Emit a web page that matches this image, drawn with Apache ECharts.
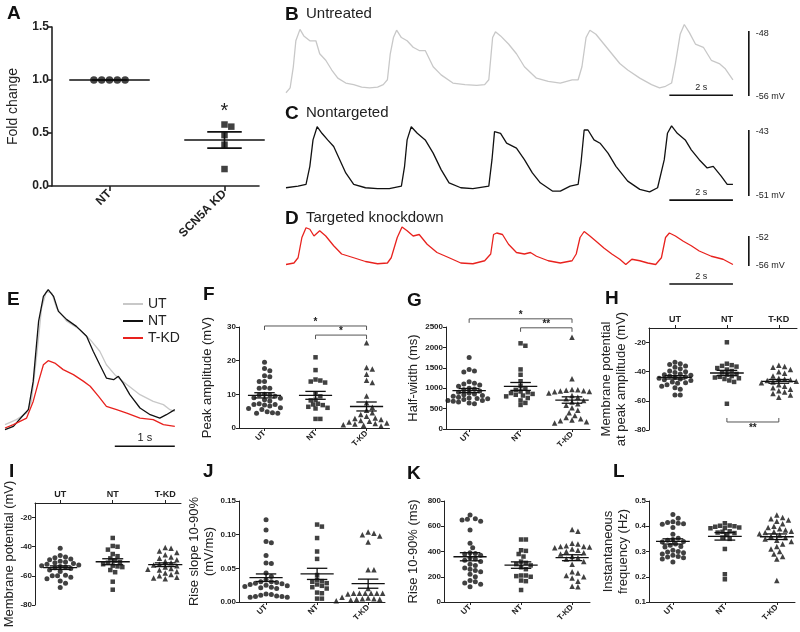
<!DOCTYPE html>
<html>
<head>
<meta charset="utf-8">
<title>SCN5A knockdown</title>
<script src="https://cdn.jsdelivr.net/npm/echarts@6/dist/echarts.min.js"></script>
</head>
<body style="margin:0;background:#fff">
<div id="main" style="width:800px;height:632px;"></div>
<script>
var FONT = '"Liberation Sans", Arial, Helvetica, sans-serif';
var GRAY = '#c8c8c8', RED = '#e8221e';

// A: fold change
var aCats = ['NT', 'SCN5A KD'];
var aNT = [1, 1, 1, 1, 1];
var aKD = [0.58, 0.56, 0.48, 0.39, 0.16];

// B-D: spontaneous traces [time s, mV]
var bTrace = [[0,-55.6],[0.13,-55.0],[0.23,-52.4],[0.31,-49.2],[0.44,-47.8],[0.56,-48.6],[0.75,-49.2],[0.94,-49.2],[1.06,-50.8],[1.25,-51.6],[1.44,-52.8],[1.63,-53.8],[1.88,-54.4],[2.13,-54.6],[2.38,-54.9],[2.63,-55.0],[2.88,-54.9],[3.06,-54.6],[3.19,-54.0],[3.28,-50.8],[3.38,-48.8],[3.48,-47.9],[3.63,-48.8],[3.81,-49.2],[4.0,-50.0],[4.19,-50.4],[4.38,-50.4],[4.63,-52.4],[4.88,-53.4],[5.25,-54.4],[5.63,-54.6],[6.0,-54.7],[6.25,-54.6],[6.38,-54.0],[6.5,-48.8],[6.59,-48.1],[6.75,-48.6],[7.0,-49.6],[7.25,-50.8],[7.5,-52.4],[7.88,-53.8],[8.25,-54.2],[8.63,-54.4],[9.0,-54.0],[9.19,-54.0],[9.31,-52.4],[9.44,-48.8],[9.56,-47.9],[9.75,-48.4],[10.0,-49.6],[10.25,-50.8],[10.5,-52.0],[10.75,-52.8],[11.13,-53.8],[11.5,-54.6],[11.75,-55.0],[11.94,-54.8],[12.13,-54.4],[12.25,-52.0],[12.4,-48.4],[12.53,-47.2],[12.69,-48.2],[12.88,-49.6],[13.13,-50.0],[13.38,-51.6],[13.63,-52.0],[13.81,-52.6],[14.06,-54.0]];
var cTrace = [[0,-50.0],[0.38,-49.8],[0.63,-49.6],[0.75,-47.4],[0.85,-44.2],[0.98,-42.6],[1.13,-43.4],[1.31,-44.2],[1.5,-45.0],[1.69,-46.6],[1.88,-48.2],[2.13,-49.6],[2.5,-50.0],[2.88,-50.1],[3.25,-50.1],[3.63,-49.8],[3.73,-47.4],[3.81,-44.2],[3.94,-42.6],[4.13,-43.4],[4.38,-44.2],[4.63,-45.8],[4.88,-47.8],[5.13,-49.4],[5.5,-50.0],[5.88,-50.1],[6.38,-49.8],[6.48,-46.6],[6.56,-43.2],[6.75,-43.4],[6.94,-44.6],[7.25,-45.2],[7.5,-46.6],[7.75,-48.2],[8.0,-49.4],[8.38,-50.4],[8.63,-50.4],[8.94,-49.8],[9.19,-49.6],[9.28,-47.0],[9.38,-43.0],[9.5,-43.0],[9.69,-44.2],[9.88,-44.6],[10.13,-45.8],[10.38,-47.4],[10.75,-49.2],[11.13,-50.2],[11.44,-50.5],[11.69,-50.0],[11.9,-46.6],[12.0,-43.4],[12.13,-42.5],[12.31,-43.4],[12.56,-44.2],[12.75,-45.4],[13.0,-46.6],[13.25,-47.6],[13.44,-47.4],[13.69,-48.6],[13.88,-49.6],[14.06,-49.6]];
var dTrace = [[0,-55.8],[0.25,-55.6],[0.38,-54.9],[0.5,-52.2],[0.63,-50.9],[0.75,-51.1],[0.88,-52.0],[1.06,-51.3],[1.25,-52.0],[1.5,-53.3],[1.75,-54.4],[2.13,-54.9],[2.5,-55.4],[2.88,-55.7],[3.19,-55.6],[3.31,-54.9],[3.5,-52.2],[3.65,-50.8],[3.81,-51.3],[4.0,-52.0],[4.19,-51.8],[4.44,-53.1],[4.75,-54.2],[5.13,-54.9],[5.5,-55.6],[5.88,-55.7],[6.25,-55.3],[6.44,-54.4],[6.53,-51.8],[6.63,-51.6],[6.81,-51.8],[7.0,-53.1],[7.25,-54.2],[7.5,-54.4],[7.69,-54.2],[7.88,-54.7],[8.25,-55.3],[8.63,-55.6],[9.0,-55.3],[9.13,-54.4],[9.25,-52.2],[9.38,-51.4],[9.56,-52.0],[9.81,-52.9],[10.0,-53.6],[10.25,-54.4],[10.5,-55.1],[10.69,-55.8],[10.88,-55.1],[11.13,-55.3],[11.38,-55.6],[11.63,-55.8],[11.81,-54.9],[11.94,-52.2],[12.06,-51.6],[12.25,-52.0],[12.5,-52.7],[12.75,-53.3],[13.0,-54.0],[13.38,-54.7],[13.75,-55.1],[14.06,-55.8]];
// scale bars: horizontal [t0, t1, mV], vertical [t, top mV, bottom mV]
var bScale = {h: [12.06, 14.06, -55.9], v: [14.56, -48, -56], top: '-48', bottom: '-56 mV'};
var cScale = {h: [12.06, 14.06, -51.5], v: [14.56, -43, -51], top: '-43', bottom: '-51 mV'};
var dScale = {h: [12.06, 14.06, -58.4], v: [14.56, -52, -56], top: '-52', bottom: '-56 mV'};

// E: averaged AP overlay [time s, mV above baseline]
var eUT = [[0,0.24],[0.19,0.6],[0.36,1.07],[0.44,1.9],[0.53,5.24],[0.61,8.57],[0.69,9.76],[0.78,9.64],[0.86,8.57],[1.03,7.62],[1.25,7.02],[1.42,6.31],[1.58,5.48],[1.69,4.52],[1.83,3.81],[2.03,3.1],[2.25,2.38],[2.47,1.9],[2.64,1.67],[2.75,1.31],[2.83,1.19]];
var eNT = [[0,-0.12],[0.14,0.12],[0.31,0.95],[0.39,1.31],[0.47,3.33],[0.56,7.62],[0.64,9.4],[0.72,9.88],[0.81,9.4],[0.89,8.33],[1.03,7.74],[1.19,7.26],[1.36,6.55],[1.47,5.48],[1.58,4.52],[1.69,3.57],[1.81,3.45],[1.89,3.69],[1.97,3.21],[2.08,2.38],[2.25,1.43],[2.42,0.95],[2.58,0.71],[2.69,0.95],[2.83,1.31]];
var eKD = [[0,0],[0.14,0.24],[0.36,0.71],[0.47,1.9],[0.56,3.33],[0.64,4.52],[0.72,4.81],[0.83,4.64],[0.97,4.17],[1.14,3.81],[1.31,3.33],[1.42,2.98],[1.56,2.26],[1.69,1.55],[1.86,1.31],[2.03,1.07],[2.25,0.71],[2.47,0.6],[2.64,0.24],[2.83,0.12]];
var eScale = {h: [1.83, 2.83, -1.3], text: '1 s'};

var groupCats = ['UT', 'NT', 'T-KD'];
// F: peak amplitude (mV)
var fUT = [19.5,17.7,17.0,15.5,15.2,13.8,13.8,12.0,11.8,11.8,10.0,9.8,9.8,9.4,9.0,8.8,8.4,8.0,7.2,7.0,7.0,6.8,6.5,6.0,5.8,5.5,4.8,4.5,4.4,4.4];
var fNT = [21.0,17.2,14.4,14.1,13.8,13.5,10.1,9.4,8.4,8.2,7.2,7.0,6.8,6.3,6.0,5.8,2.7,2.7];
var fKD = [25.3,18.0,17.5,16.0,14.2,13.5,9.5,7.5,6.2,5.3,4.5,4.0,3.5,3.0,2.8,2.5,2.2,2.0,1.8,1.5,1.3,1.2,1.0,0.8,0.6,0.5];
// G: half-width (ms)
var gUT = [1750,1460,1420,1400,1160,1120,1100,1080,1050,1000,980,960,930,900,880,860,840,820,800,780,760,750,740,720,700,700,680,660,640,620];
var gNT = [2100,2040,1460,1330,1170,1050,1000,960,920,900,880,860,840,820,800,760,700,640,590];
var gKD = [2250,1230,970,960,950,940,930,920,910,900,880,860,820,780,740,700,660,620,580,520,460,400,330,280,250,220,200,180,150];
// H: membrane potential at peak amplitude (mV)
var hUT = [-33.5,-34.5,-35,-36,-37,-38,-39.5,-40,-40.5,-41.5,-42,-42.5,-43,-43.5,-44,-44.5,-45,-45.5,-46,-47,-47.5,-48,-49,-50,-51,-52,-56,-56];
var hNT = [-19.8,-34.5,-35.5,-36,-36.5,-37.5,-38.5,-39.5,-40.5,-41.5,-42,-43,-43.5,-44,-44.5,-45,-46,-47,-62];
var hKD = [-35.5,-36.5,-37,-38.5,-40,-41,-43,-44.5,-45,-45.5,-46,-46.5,-47,-47.5,-48,-49,-50,-51,-52,-53,-54,-55,-56,-57.5];
// I: membrane potential (mV)
var iUT = [-41,-46,-47,-47.5,-48.5,-49,-50,-50.5,-51,-51.5,-52,-52.5,-53,-53.5,-54,-54.5,-55,-56,-57,-59.5,-60,-60,-61,-62,-63.5,-65,-68];
var iNT = [-34,-39.5,-40,-42,-45,-46.5,-48,-49.5,-50.5,-51,-52,-53,-53.5,-54,-56,-57.5,-64,-69.5];
var iKD = [-40.5,-41,-43,-44,-45.5,-47,-48,-49,-50,-51,-52,-52.5,-53,-53.5,-54,-55,-55.5,-56,-57,-58,-59,-60,-61,-61.5,-62];
// J: rise slope 10-90% (mV/ms)
var jUT = [0.122,0.107,0.090,0.088,0.069,0.058,0.057,0.043,0.038,0.033,0.030,0.030,0.029,0.028,0.027,0.026,0.025,0.024,0.023,0.022,0.021,0.020,0.012,0.011,0.010,0.009,0.008,0.008,0.007,0.007];
var jNT = [0.115,0.112,0.095,0.075,0.064,0.040,0.033,0.031,0.030,0.028,0.026,0.024,0.022,0.020,0.014,0.013,0.005,0.005];
var jKD = [0.104,0.102,0.100,0.098,0.089,0.048,0.048,0.020,0.013,0.013,0.013,0.013,0.013,0.013,0.013,0.012,0.008,0.007,0.006,0.005,0.005,0.004,0.004,0.003,0.003,0.002,0.002,0.001];
// K: rise 10-90% (ms)
var kUT = [690,660,655,650,640,570,465,430,390,385,380,370,350,340,330,320,300,290,270,260,250,240,220,200,170,160,150,140,120];
var kNT = [495,495,410,405,380,360,320,310,300,290,275,260,210,210,205,200,170,165,95];
var kKD = [575,560,465,460,445,440,440,435,430,425,420,410,400,390,380,360,350,340,320,300,240,230,210,200,190,165,125,120];
// L: instantaneous frequency (Hz)
var lUT = [0.447,0.432,0.418,0.415,0.412,0.410,0.408,0.395,0.368,0.352,0.348,0.345,0.340,0.338,0.330,0.325,0.320,0.318,0.305,0.300,0.298,0.295,0.290,0.285,0.280,0.278,0.275,0.270,0.258];
var lNT = [0.412,0.403,0.402,0.400,0.398,0.395,0.393,0.392,0.380,0.378,0.375,0.373,0.365,0.355,0.350,0.310,0.210,0.190];
var lKD = [0.445,0.435,0.430,0.425,0.420,0.410,0.400,0.395,0.390,0.385,0.380,0.378,0.375,0.370,0.365,0.360,0.355,0.350,0.345,0.340,0.330,0.320,0.310,0.300,0.290,0.280,0.270,0.185];

// significance annotations
var aSig = [{from: 1, to: 1, y: 0.62, text: '*'}];
var fSig = [{from: 0, to: 2, y: 30.3, text: '*', down: true}, {from: 1, to: 2, y: 27.6, text: '*', down: true}];
var gSig = [{from: 0, to: 2, y: 2700, text: '*', down: true}, {from: 1, to: 2, y: 2480, text: '**', down: true}];
var hSig = [{from: 1, to: 2, y: -74.5, text: '**', down: false}];

var grid = [], xAxis = [], yAxis = [], series = [], graphic = [];

function stats(vals) {
    var n = vals.length;
    var m = vals.reduce(function (a, b) { return a + b; }, 0) / n;
    var ss = vals.reduce(function (a, b) { return a + (b - m) * (b - m); }, 0);
    return [m, Math.sqrt(ss / (n - 1)) / Math.sqrt(n)];
}

// simple beeswarm: spread equal-ish values sideways so symbols do not overlap much
function swarm(vals, cat, pxX, pxY, size) {
    var placed = [], out = [];
    var order = vals.map(function (v, i) { return i; }).sort(function (a, b) { return vals[b] - vals[a]; });
    order.forEach(function (i) {
        var y = vals[i] * pxY;
        for (var k = 0; k < 200; k++) {
            var x = (k === 0 ? 0 : (k % 2 ? 1 : -1) * Math.ceil(k / 2)) * size * 0.5;
            var ok = placed.every(function (p) { return Math.hypot(p[0] - x, p[1] - y) >= size * 0.92; });
            if (ok) { placed.push([x, y]); out.push([cat + x / pxX, vals[i]]); break; }
        }
    });
    return out;
}

function meanSem(gi, groups, meanW, semW, lw) {
    return {
        type: 'custom', xAxisIndex: gi, yAxisIndex: gi, silent: true, z: 4,
        data: groups.map(function (g, i) { var s = stats(g); return [i, s[0], s[1]]; }),
        renderItem: function (params, api) {
            var c = api.value(0), m = api.value(1), s = api.value(2);
            var pm = api.coord([c, m]), pu = api.coord([c, m + s]), pl = api.coord([c, m - s]);
            var hw = api.size([meanW, 0])[0] / 2, sw = api.size([semW, 0])[0] / 2;
            var st = {stroke: '#111', lineWidth: lw};
            return {type: 'group', children: [
                {type: 'line', shape: {x1: pm[0] - hw, y1: pm[1], x2: pm[0] + hw, y2: pm[1]}, style: st},
                {type: 'line', shape: {x1: pu[0] - sw, y1: pu[1], x2: pu[0] + sw, y2: pu[1]}, style: st},
                {type: 'line', shape: {x1: pl[0] - sw, y1: pl[1], x2: pl[0] + sw, y2: pl[1]}, style: st},
                {type: 'line', shape: {x1: pm[0], y1: pu[1], x2: pm[0], y2: pl[1]}, style: st}
            ]};
        }
    };
}

function sigSeries(gi, list, font) {
    return {
        type: 'custom', xAxisIndex: gi, yAxisIndex: gi, silent: true, z: 5,
        data: list.map(function (b) { return [b.from, b.y, b.to]; }),
        renderItem: function (params, api) {
            var b = list[params.dataIndex];
            var p1 = api.coord([b.from, b.y]), p2 = api.coord([b.to, b.y]);
            var kids = [];
            if (b.from !== b.to) {
                var d = b.down ? 4 : -4;
                kids.push({type: 'polyline', shape: {points: [[p1[0], p1[1] + d], [p1[0], p1[1]], [p2[0], p2[1]], [p2[0], p2[1] + d]]},
                    style: {stroke: '#555', lineWidth: 1, fill: null}});
            }
            kids.push({type: 'text', x: (p1[0] + p2[0]) / 2, y: p1[1] + 1,
                style: {text: b.text, font: font, fill: '#222', align: 'center', verticalAlign: b.down === false ? 'top' : 'bottom'}});
            return {type: 'group', children: kids};
        }
    };
}

function dotPanel(p) {
    var gi = grid.length;
    grid.push({left: p.left, top: p.top, width: p.width, height: p.height});
    var labFont = {fontFamily: FONT, fontWeight: 'bold', fontSize: p.tickFont || 8, color: '#222'};
    xAxis.push({
        type: 'value', gridIndex: gi, min: p.x[0], max: p.x[1], position: p.topAxis ? 'top' : 'bottom',
        axisLine: {show: true, onZero: false, lineStyle: {color: '#222', width: p.lw || 1}},
        axisTick: {show: true, customValues: p.cats.map(function (c, i) { return i; }), length: p.tickLen || 3, lineStyle: {color: '#222', width: p.lw || 1}},
        axisLabel: Object.assign({customValues: p.cats.map(function (c, i) { return i; }), rotate: p.topAxis ? 0 : 45, margin: p.labMargin || 4,
            formatter: function (v) { return p.cats[Math.round(v)]; }}, labFont, p.xLabFont || {}),
        splitLine: {show: false}
    });
    yAxis.push({
        type: 'value', gridIndex: gi, min: p.y[0], max: p.y[1],
        name: p.name, nameLocation: 'middle', nameGap: p.nameGap, nameRotate: 90,
        nameTextStyle: {fontFamily: FONT, fontSize: p.nameSize || 13, color: '#222', lineHeight: (p.nameSize || 13) + 2},
        axisLine: {show: true, onZero: false, lineStyle: {color: '#222', width: p.lw || 1}},
        axisTick: {show: true, customValues: p.ticks, length: p.tickLen || 3, lineStyle: {color: '#222', width: p.lw || 1}},
        axisLabel: Object.assign({customValues: p.ticks, margin: 3, formatter: p.fmt}, labFont),
        splitLine: {show: false}
    });
    var pxX = p.width / (p.x[1] - p.x[0]), pxY = p.height / (p.y[1] - p.y[0]);
    var syms = p.syms || ['circle', 'rect', 'triangle'];
    var sizes = p.sizes || [5, 4.5, 5.5];
    p.groups.forEach(function (vals, i) {
        series.push({type: 'scatter', xAxisIndex: gi, yAxisIndex: gi, silent: true, z: 3,
            symbol: syms[i], symbolSize: sizes[i], itemStyle: {color: '#111'},
            data: swarm(vals, i, pxX, pxY, sizes[i] + 0.3)});
    });
    series.push(meanSem(gi, p.groups, p.meanW || 0.65, p.semW || 0.4, p.meanLw || 1.3));
    if (p.sig) series.push(sigSeries(gi, p.sig, p.sigFont || 'bold 10px ' + FONT));
    return gi;
}

function tracePanel(p) {
    var gi = grid.length;
    grid.push({left: p.left, top: p.top, width: p.width, height: p.height});
    xAxis.push({type: 'value', gridIndex: gi, min: p.x[0], max: p.x[1], show: false});
    yAxis.push({type: 'value', gridIndex: gi, min: p.y[0], max: p.y[1], show: false});
    p.traces.forEach(function (t) {
        series.push({type: 'line', name: t.name, xAxisIndex: gi, yAxisIndex: gi, data: t.data, showSymbol: false, silent: true,
            color: t.color, lineStyle: {color: t.color, width: 1.3}, z: t.z || 2, clip: false});
    });
    var sc = p.scale;
    series.push({
        type: 'custom', xAxisIndex: gi, yAxisIndex: gi, silent: true, z: 5,
        data: [[sc.h[0], sc.h[2]]],
        renderItem: function (params, api) {
            var st = {stroke: '#111', lineWidth: 1.6};
            var h0 = api.coord([sc.h[0], sc.h[2]]), h1 = api.coord([sc.h[1], sc.h[2]]);
            var kids = [
                {type: 'line', shape: {x1: h0[0], y1: h0[1], x2: h1[0], y2: h1[1]}, style: st},
                {type: 'text', x: (h0[0] + h1[0]) / 2, y: h0[1] - 3, style: {text: sc.text || '2 s', font: (p.scaleFont || 9) + 'px ' + FONT, fill: '#222', align: 'center', verticalAlign: 'bottom'}}
            ];
            if (sc.v) {
                var v0 = api.coord([sc.v[0], sc.v[1]]), v1 = api.coord([sc.v[0], sc.v[2]]);
                kids.push({type: 'line', shape: {x1: v0[0], y1: v0[1], x2: v1[0], y2: v1[1]}, style: st});
                kids.push({type: 'text', x: v0[0] + 7, y: v0[1] + 2, style: {text: sc.top, font: '9px ' + FONT, fill: '#222', align: 'left', verticalAlign: 'middle'}});
                kids.push({type: 'text', x: v1[0] + 7, y: v1[1], style: {text: sc.bottom, font: '9px ' + FONT, fill: '#222', align: 'left', verticalAlign: 'middle'}});
            }
            return {type: 'group', children: kids};
        }
    });
    return gi;
}

// ---- A
dotPanel({left: 52, top: 27, width: 207, height: 159, x: [-0.5, 1.3], y: [0, 1.5], cats: aCats,
    ticks: [0, 0.5, 1, 1.5], fmt: function (v) { return v.toFixed(1); }, groups: [aNT, aKD],
    syms: ['circle', 'rect'], sizes: [7.5, 6.5], tickFont: 12, lw: 1.6, tickLen: 5, labMargin: 6,
    name: 'Fold change', nameGap: 31, nameSize: 14, meanW: 0.7, semW: 0.3, meanLw: 1.6,
    sig: aSig, sigFont: '20px ' + FONT});

// ---- B, C, D
tracePanel({left: 286, top: 22.9, width: 508.6, height: 77.2, x: [0, 16], y: [-56.5, -47],
    traces: [{data: bTrace, color: GRAY}], scale: bScale});
tracePanel({left: 286, top: 121.75, width: 508.6, height: 82.5, x: [0, 16], y: [-52, -42],
    traces: [{data: cTrace, color: '#111'}], scale: cScale});
tracePanel({left: 286, top: 224.75, width: 508.6, height: 63.75, x: [0, 16], y: [-59, -50.5],
    traces: [{data: dTrace, color: RED}], scale: dScale});

// ---- E
tracePanel({left: 5, top: 274, width: 180, height: 175, x: [0, 3], y: [-1.5, 11],
    traces: [{name: 'UT', data: eUT, color: GRAY, z: 2}, {name: 'NT', data: eNT, color: '#111', z: 3}, {name: 'T-KD', data: eKD, color: RED, z: 4}],
    scale: eScale, scaleFont: 11});

// ---- F-L
dotPanel({left: 239, top: 327, width: 150.5, height: 101, x: [-0.5, 2.45], y: [0, 30], cats: groupCats,
    ticks: [0, 10, 20, 30], fmt: function (v) { return v; }, groups: [fUT, fNT, fKD],
    name: 'Peak amplitude (mV)', nameGap: 24, sig: fSig});
dotPanel({left: 446, top: 327, width: 144, height: 102, x: [-0.45, 2.35], y: [0, 2500], cats: groupCats,
    ticks: [0, 500, 1000, 1500, 2000, 2500], fmt: function (v) { return v; }, groups: [gUT, gNT, gKD],
    name: 'Half-width (ms)', nameGap: 25, sig: gSig});
dotPanel({left: 649, top: 328, width: 148, height: 102, x: [-0.5, 2.35], y: [-80, -10], cats: groupCats, topAxis: true,
    ticks: [-80, -60, -40, -20], fmt: function (v) { return v; }, groups: [hUT, hNT, hKD],
    name: 'Membrane potential\nat peak amplitude (mV)', nameGap: 20, sig: hSig, xLabFont: {fontSize: 9}});
dotPanel({left: 35, top: 503, width: 146, height: 102, x: [-0.48, 2.3], y: [-80, -10], cats: groupCats, topAxis: true,
    ticks: [-80, -60, -40, -20], fmt: function (v) { return v; }, groups: [iUT, iNT, iKD],
    name: 'Membrane potential (mV)', nameGap: 15, xLabFont: {fontSize: 9}});
dotPanel({left: 239, top: 501, width: 146, height: 101, x: [-0.53, 2.33], y: [0, 0.15], cats: groupCats,
    ticks: [0, 0.05, 0.1, 0.15], fmt: function (v) { return v.toFixed(2); }, groups: [jUT, jNT, jKD],
    name: 'Rise slope 10-90%\n(mV/ms)', nameGap: 13});
dotPanel({left: 444, top: 501, width: 146, height: 101, x: [-0.51, 2.35], y: [0, 800], cats: groupCats,
    ticks: [0, 200, 400, 600, 800], fmt: function (v) { return v; }, groups: [kUT, kNT, kKD],
    name: 'Rise 10-90% (ms)', nameGap: 23});
dotPanel({left: 649, top: 501, width: 146, height: 101, x: [-0.46, 2.35], y: [0.1, 0.5], cats: groupCats,
    ticks: [0.1, 0.2, 0.3, 0.4, 0.5], fmt: function (v) { return v.toFixed(1); }, groups: [lUT, lNT, lKD],
    name: 'Instantaneous\nfrequency (Hz)', nameGap: 17});

// panel letters and titles
var letters = [['A', 7, 4], ['B', 285, 5], ['C', 285, 104], ['D', 285, 209], ['E', 7, 290], ['F', 203, 285],
    ['G', 407, 291], ['H', 605, 289], ['I', 9, 462], ['J', 203, 462], ['K', 407, 464], ['L', 613, 462]];
letters.forEach(function (l) {
    graphic.push({type: 'text', left: l[1], top: l[2], silent: true, style: {text: l[0], font: 'bold 19px ' + FONT, fill: '#111'}});
});
var titles = [['Untreated', 306, 6], ['Nontargeted', 306, 105], ['Targeted knockdown', 306, 210]];
titles.forEach(function (t) {
    graphic.push({type: 'text', left: t[1], top: t[2], silent: true, style: {text: t[0], font: '15px ' + FONT, fill: '#222'}});
});

var chart = echarts.init(document.getElementById('main'));
chart.setOption({
    backgroundColor: '#fff',
    animation: false,
    textStyle: {fontFamily: FONT},
    legend: {left: 118, top: 292, orient: 'vertical', itemWidth: 20, itemHeight: 2, itemGap: 3, icon: 'rect', selectedMode: false,
        data: ['UT', 'NT', 'T-KD'], textStyle: {fontSize: 14, fontFamily: FONT, color: '#222'}},
    grid: grid, xAxis: xAxis, yAxis: yAxis, series: series, graphic: graphic
});
</script>
</body>
</html>
